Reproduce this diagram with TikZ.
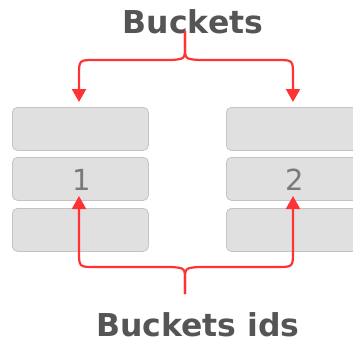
\documentclass[tikz,border=0pt]{standalone}
\usepackage{fontspec}
\setmainfont{DejaVu Sans}
\usetikzlibrary{arrows.meta}
\definecolor{brace}{HTML}{FF3333}
\definecolor{boxfill}{HTML}{E0E0E0}
\definecolor{boxedge}{HTML}{C4C4C4}
\definecolor{titlegray}{HTML}{555555}
\definecolor{numgray}{HTML}{7A7A7A}
\tikzset{
  bucket/.style={draw=boxedge, line width=0.8pt, fill=boxfill, rounded corners=5pt,
    minimum width=136pt, minimum height=43pt, inner sep=0pt, anchor=north west},
  title/.style={font=\fontsize{31.5}{31.5}\selectfont\bfseries, text=titlegray, inner sep=0pt,
    text depth=0pt, anchor=base},
  num/.style={font=\fontsize{29}{29}\selectfont, text=numgray, inner sep=0pt, anchor=base},
  link/.style={draw=brace, line width=2.2pt, -{Triangle[width=14pt,length=13pt]}}
}
\begin{document}
\begin{tikzpicture}[x=1pt,y=-1pt]
\useasboundingbox (0,0) rectangle (353,343);
\clip (0,0) rectangle (353,343);
% buckets
\node[bucket] (l1) at (12,107) {};
\node[bucket] (l2) at (12,157) {};
\node[bucket] (l3) at (12,208) {};
\node[bucket] (r1) at (226,107) {};
\node[bucket] (r2) at (226,157) {};
\node[bucket] (r3) at (226,208) {};
\node[num] (n1) at (82,190) {1};
\node[num] (n2) at (295,190) {2};
% titles
\node[title] (top) at (193,33) {Buckets};
\node[title] (bot) at (198,336) {Buckets ids};
% brace coordinates
\coordinate (ts) at (185,31);
\coordinate (tl) at (79,102);
\coordinate (tr) at (293,102);
\coordinate (bs) at (185,294);
\coordinate (bl) at (79,196);
\coordinate (br) at (293,196);
% top brace
\draw[link] (ts) -- (185,46) .. controls (185,59) .. (171,60) -- (95,60)
  .. controls (79,60) .. (79,76) -- (tl);
\draw[link] (ts) -- (185,46) .. controls (185,59) .. (199,60) -- (277,60)
  .. controls (293,60) .. (293,76) -- (tr);
% bottom brace
\draw[link] (bs) -- (185,281) .. controls (185,268) .. (171,267) -- (95,267)
  .. controls (79,267) .. (79,251) -- (bl);
\draw[link] (bs) -- (185,281) .. controls (185,268) .. (199,267) -- (277,267)
  .. controls (293,267) .. (293,251) -- (br);
\end{tikzpicture}
\end{document}
